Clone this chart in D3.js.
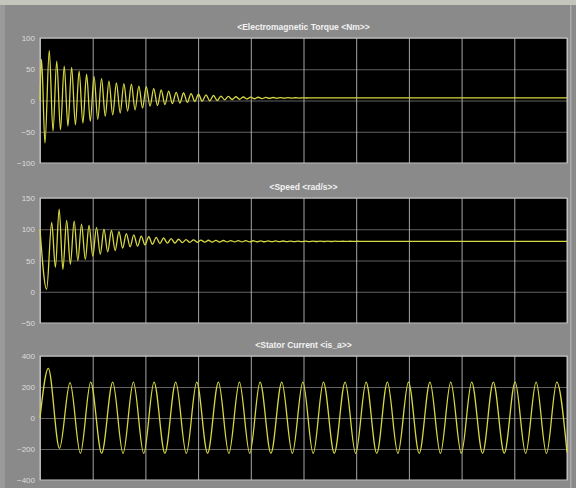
<!DOCTYPE html>
<html><head><meta charset="utf-8">
<script src="https://cdn.jsdelivr.net/npm/d3@7"></script>
<style>html,body{margin:0;padding:0;background:#8a8a8a;}svg{display:block;}</style>
</head><body>
<script>
// ---- data (time in ms) ----
const titles = ["<Electromagnetic Torque <Nm>>", "<Speed <rad/s>>", "<Stator Current <is_a>>"];
const yTicks1 = [100, 50, 0, -50, -100];
const yTicks2 = [150, 100, 50, 0, -50];
const yTicks3 = [400, 200, 0, -200, -400];
const xTicks = [0, 50, 100, 150, 200, 250, 300, 350, 400, 450, 500];

const torqueT = [0,1.5,4.7,8.8,12.3,15.9,19.4,23.0,26.5,30.0,33.6,37.1,40.7,44.2,47.7,51.3,54.8,58.4,61.9,65.4,69.0,72.5,76.1,79.6,83.1,86.7,90.2,93.8,97.3,100.8,104.4,107.9,111.5,115.0,118.5,122.1,125.6,129.2,132.7,136.2,139.8,143.3,146.9,150.4,153.9,157.5,161.0,164.6,168.1,171.6,175.2,178.7,182.3,185.8,189.3,192.9,196.4,200.0,203.5,207.0,210.6,214.1,217.7,221.2,224.7,228.3,231.8,235.4,238.9,242.4,246.0,249.5,253.1,256.6,260.1,275,500];
const torqueV = [0,66,-68,80,-49,63,-47,55,-41,53,-39,47,-36,42,-33,38,-30,35,-25,31,-23,28,-20,27,-17,26,-15,23,-12,22,-9,19,-8,17,-6.5,15,-5,13,-4,12,-3,11,-1.6,10,-1,9,-0.5,8,0,7,1,6.5,1.6,6,2,5.6,2.4,5.4,2.8,5.2,3.1,5,3.3,4.8,3.5,4.6,3.7,4.5,3.8,4.4,3.9,4.3,4.0,4.2,4.05,4.1,4.1];

const speedT = [0,6.3,11.1,14.6,18.2,21.7,25.3,28.8,32.4,35.9,39.4,43.0,46.5,50.1,53.6,57.2,60.7,64.2,67.8,71.3,74.9,78.4,81.9,85.5,89.0,92.6,96.1,99.6,103.2,106.7,110.3,113.8,117.3,120.9,124.4,128.0,131.5,135.0,138.6,142.1,145.7,149.2,152.7,156.3,159.8,163.4,166.9,170.4,174.0,177.5,181.1,184.6,188.1,191.7,195.2,198.8,202.3,205.8,209.4,212.9,216.5,220.0,223.5,227.1,230.6,234.2,237.7,241.2,244.8,248.3,251.9,255.4,258.9,262.5,266.0,269.6,273.1,276.6,280.2,283.7,287.3,290.8,294.3,297.9,301.4,305.0,308.5,312.0,315.6,319.1,322.7,326.2,329.7,333.3,336.8,340.4,500];
const speedV = [100,4,111,39,132,36,114,44,113,50,108,52,106,57,103,60,100,64,98,66,96,70,93,72,91,73,89,75,88,76,87,77,86,77.7,85,78,84,78.5,83.5,79,83,79.2,82.6,79.4,82.4,79.5,82.2,79.6,82,79.7,81.9,79.8,81.8,79.9,81.7,79.9,81.6,80,81.5,80,81.4,80.1,81.3,80.1,81.2,80.2,81.1,80.2,81.1,80.3,81,80.3,81,80.4,80.9,80.4,80.9,80.4,80.9,80.5,80.8,80.5,80.8,80.5,80.8,80.5,80.75,80.5,80.75,80.55,80.7,80.55,80.7,80.6,80.65,80.6,80.62];

const currentT = [0,7.9,18.5,28.5,38.3,48.1,58.5,69.0,78.8,88.6,98.4,108.2,118.5,128.8,138.8,148.7,159.0,169.3,179.2,189.2,199.0,208.8,219.1,229.4,239.4,249.4,259.2,268.9,279.2,289.5,299.5,309.4,319.5,329.6,339.6,349.6,359.8,370.0,379.9,389.7,399.7,409.6,419.9,430.1,440.5,450.8,460.8,470.7,480.5,490.3,500];
const currentV = [0,320,-196,228,-228,232,-228,232,-228,232,-228,232,-228,232,-228,232,-228,232,-228,232,-228,232,-228,232,-228,232,-228,232,-228,232,-228,232,-228,232,-228,232,-228,232,-228,232,-228,232,-228,232,-228,232,-228,232,-228,232,-222];

// ---- layout ----
const W = 576, H = 488;
const svg = d3.select("body").append("svg").attr("width", W).attr("height", H);
svg.append("rect").attr("width", W).attr("height", H).attr("fill", "#8a8a8a");
svg.append("rect").attr("x", 0).attr("y", 0).attr("width", W).attr("height", 5).attr("fill", "#c4c6bd");
svg.append("rect").attr("x", 0).attr("y", 5).attr("width", 5).attr("height", H - 5).attr("fill", "#9a9a9a");
svg.append("rect").attr("x", 570).attr("y", 5).attr("width", 1.5).attr("height", H - 5).attr("fill", "#a8a8a8");

const left = 40, right = 567;
const x = d3.scaleLinear().domain([0, 500]).range([left, right]);

const panels = [
  {title: titles[0], top: 38, bottom: 163, ticks: yTicks1, t: torqueT, v: torqueV, ty: 28},
  {title: titles[1], top: 198, bottom: 323, ticks: yTicks2, t: speedT, v: speedV, ty: 188},
  {title: titles[2], top: 356, bottom: 480, ticks: yTicks3, t: currentT, v: currentV, ty: 346}
];

panels.forEach((p, i) => {
  const y = d3.scaleLinear().domain([p.ticks[p.ticks.length - 1], p.ticks[0]]).range([p.bottom, p.top]);
  const g = svg.append("g");
  g.append("rect").attr("x", left).attr("y", p.top).attr("width", right - left).attr("height", p.bottom - p.top).attr("fill", "#000");

  const gy = g.append("g").attr("transform", `translate(${left},0)`)
    .call(d3.axisLeft(y).tickValues(p.ticks).tickSize(-(right - left)).tickFormat(""));
  gy.select(".domain").remove();
  gy.selectAll("line").attr("stroke", "#7a7a7a").attr("stroke-width", 0.8);

  const gx = g.append("g").attr("transform", `translate(0,${p.bottom})`)
    .call(d3.axisBottom(x).tickValues(xTicks).tickSize(-(p.bottom - p.top)).tickFormat(""));
  gx.select(".domain").remove();
  gx.selectAll("line").attr("stroke", "#b8b8b8").attr("stroke-width", 0.9);

  const gl = g.append("g").attr("transform", `translate(${left - 5},0)`)
    .call(d3.axisLeft(y).tickValues(p.ticks).tickSize(0).tickPadding(0).tickFormat(d3.format("d")));
  gl.select(".domain").remove();
  gl.selectAll("text").attr("fill", "#dcdcdc").style("font", "8px 'Liberation Sans', Arial, sans-serif");

  g.append("rect").attr("x", left).attr("y", p.top).attr("width", right - left).attr("height", p.bottom - p.top)
    .attr("fill", "none").attr("stroke", "#c8c8c8").attr("stroke-width", 1);

  const pts = p.t.map((t, k) => [t, p.v[k]]);
  const line = d3.line().x(d => x(d[0])).y(d => y(d[1])).curve(d3.curveMonotoneX);
  g.append("path").datum(pts).attr("d", line).attr("fill", "none")
    .attr("stroke", "#d8d842").attr("stroke-width", 1.3);

  svg.append("text").attr("x", (left + right) / 2).attr("y", p.ty).attr("text-anchor", "middle")
    .attr("dominant-baseline", "middle").attr("fill", "#f2f2f2")
    .style("font", "bold 8.5px 'Liberation Sans', Arial, sans-serif").text(p.title);
});
</script>
</body></html>
